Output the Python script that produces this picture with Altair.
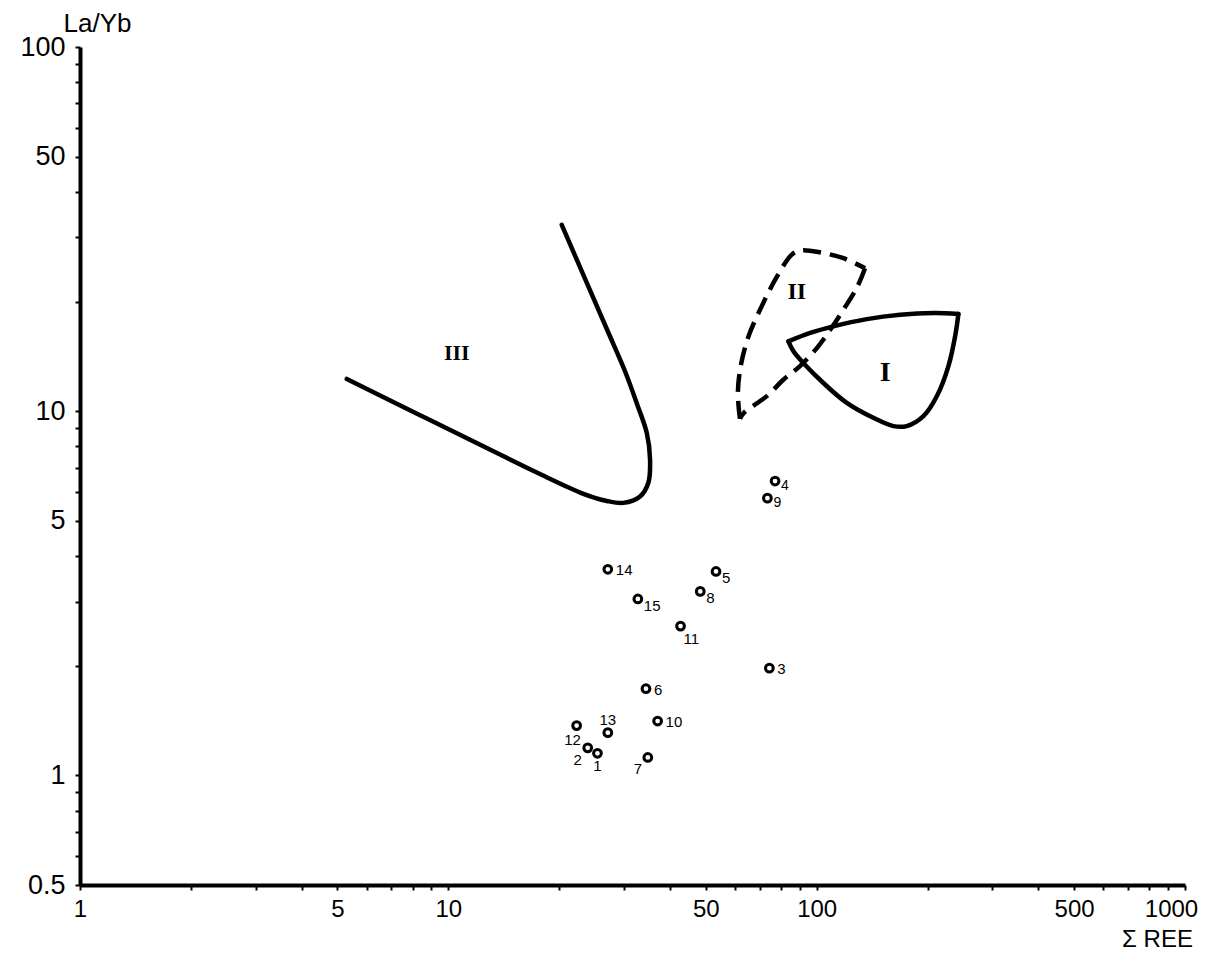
import altair as alt
import pandas as pd

# ---------------- data ----------------
sample_ids = ["1", "2", "3", "4", "5", "6", "7", "8", "9", "10", "11", "12", "13", "14", "15"]
sample_ree = [25.4, 23.9, 74.4, 77.1, 53.3, 34.4, 34.8, 48.3, 73.5, 37.0, 42.7, 22.3, 27.1, 27.1, 32.7]
sample_layb = [1.15, 1.19, 1.97, 6.43, 3.63, 1.73, 1.12, 3.20, 5.77, 1.41, 2.57, 1.37, 1.31, 3.68, 3.05]
sample_place = ["b", "bl", "r", "rl", "rb", "r", "bl", "rb", "rl", "r", "rbb", "bls", "a", "r", "rb"]

# label placements: dx, dy, align, font size
placements = {
    "r": (8, 1, "left", 15),
    "rl": (6, 5, "left", 14),
    "rb": (6, 7, "left", 15),
    "rbb": (3, 13, "left", 15),
    "b": (0, 13, "center", 15),
    "bl": (-10, 12, "center", 15),
    "bls": (-4, 14, "center", 15),
    "a": (0, -13, "center", 15),
}

# Field III (open curve)
f3_ree = [5.30, 8.38, 12.72, 17.74, 23.26, 26.92, 29.87, 33.15, 34.91, 35.29, 34.57,
          32.60, 30.18, 27.02, 23.43, 20.32]
f3_layb = [12.26, 9.75, 7.92, 6.72, 5.93, 5.67, 5.60, 5.83, 6.36, 7.37, 8.72,
           10.40, 12.87, 16.68, 23.27, 32.47]

# Field II (dashed closed outline, two edges between corners)
f2a_ree = [61.9, 61.1, 62.2, 65.3, 70.9, 78.0, 85.6, 90.1, 102.1, 118.2, 135.3]
f2a_layb = [9.53, 11.2, 13.3, 16.05, 19.4, 23.4, 26.9, 27.6, 27.3, 26.3, 24.7]
f2b_ree = [135.3, 128.5, 118.2, 108.7, 100.1, 90.1, 81.2, 73.2, 63.5, 61.9]
f2b_layb = [24.7, 21.8, 19.0, 16.7, 14.9, 13.3, 12.2, 11.0, 9.9, 9.53]

# Field I (solid closed outline, two edges between corners)
f1a_ree = [83.8, 96.0, 111.0, 136.8, 168.5, 207.5, 242.6]
f1a_layb = [15.55, 16.4, 17.1, 17.9, 18.4, 18.6, 18.5]
f1b_ree = [242.6, 237.6, 227.8, 211.9, 194.9, 175.6, 161.6, 142.5, 120.7, 104.3, 92.0, 86.5, 83.8]
f1b_layb = [18.5, 16.05, 13.28, 10.99, 9.69, 9.10, 9.10, 9.59, 10.54, 11.95, 13.56, 14.6, 15.55]

field_names = ["III", "II", "I"]
field_label_ree = [10.54, 88.3, 153.4]
field_label_layb = [14.45, 21.3, 12.73]
field_font_sizes = {"III": 22, "II": 24, "I": 28}

x_ticks = [1, 2, 3, 4, 5, 6, 7, 8, 9, 10, 20, 30, 40, 50, 60, 70, 80, 90,
           100, 200, 300, 400, 500, 600, 700, 800, 900, 1000]
x_labels = [1, 5, 10, 50, 100, 500, 1000]
y_ticks = [0.5, 0.6, 0.7, 0.8, 0.9, 1, 2, 3, 4, 5, 6, 7, 8, 9, 10,
           20, 30, 40, 50, 60, 70, 80, 90, 100]
y_labels = [0.5, 1, 5, 10, 50, 100]

# ---------------- tables ----------------
pts = pd.DataFrame({"id": sample_ids, "ree": sample_ree, "layb": sample_layb, "place": sample_place})

def seg(name, xs, ys):
    return pd.DataFrame({"seg": name, "ree": xs, "layb": ys, "ord": list(range(len(xs)))})

solid = pd.concat([seg("III", f3_ree, f3_layb), seg("Ia", f1a_ree, f1a_layb),
                   seg("Ib", f1b_ree, f1b_layb)], ignore_index=True)
dashed = pd.concat([seg("IIa", f2a_ree, f2a_layb), seg("IIb", f2b_ree, f2b_layb)], ignore_index=True)
fields = pd.DataFrame({"name": field_names, "ree": field_label_ree, "layb": field_label_layb})

FONT = "Liberation Sans"

x_lab_list = ",".join(str(v) for v in x_labels)
y_lab_list = ",".join(str(v) for v in y_labels)

X = alt.X("ree:Q",
          scale=alt.Scale(type="log", domain=[1, 1000], nice=False),
          axis=alt.Axis(values=x_ticks,
                        labelExpr=f"indexof([{x_lab_list}], datum.value) >= 0 ? format(datum.value, '~g') : ''",
                        title="Σ REE", titleX=1077, titleY=61, titleAlign="center",
                        titleBaseline="alphabetic", titleFontSize=24, labelPadding=7,
                        labelOffset={"condition": {"test": "datum.value >= 1000", "value": -14}, "value": 0},
                        labelFontSize=24))
Y = alt.Y("layb:Q",
          scale=alt.Scale(type="log", domain=[0.5, 100], nice=False),
          axis=alt.Axis(values=y_ticks,
                        labelExpr=f"indexof([{y_lab_list}], datum.value) >= 0 ? format(datum.value, '~g') : ''",
                        title="La/Yb", titleAngle=0, titleX=17, titleY=-16, titleAlign="center",
                        titleBaseline="alphabetic", titleFontSize=26, labelPadding=10, labelFontSize=27))

solid_lines = alt.Chart(solid).mark_line(
    color="black", strokeWidth=4.5, interpolate="catmull-rom", strokeCap="round", strokeJoin="round"
).encode(x=X, y=Y, detail="seg:N", order="ord:Q")

dashed_lines = alt.Chart(dashed).mark_line(
    color="black", strokeWidth=4.5, interpolate="catmull-rom", strokeDash=[18, 9]
).encode(x=X, y=Y, detail="seg:N", order="ord:Q")

points = alt.Chart(pts).mark_point(
    shape="circle", size=60, strokeWidth=3, color="black", fill="white", filled=False, opacity=1
).encode(x=X, y=Y)

label_layers = []
for key, (dx, dy, align, fs) in placements.items():
    label_layers.append(
        alt.Chart(pts).transform_filter(alt.datum.place == key).mark_text(
            dx=dx, dy=dy, align=align, baseline="middle", font=FONT, fontSize=fs, color="black"
        ).encode(x=X, y=Y, text="id:N")
    )

field_layers = []
for name, fs in field_font_sizes.items():
    field_layers.append(
        alt.Chart(fields).transform_filter(alt.datum.name == name).mark_text(
            font="Liberation Serif", fontSize=fs, fontWeight="bold", color="black", baseline="middle"
        ).encode(x=X, y=Y, text="name:N")
    )

chart = alt.layer(solid_lines, dashed_lines, points, *field_layers, *label_layers).properties(
    width=1105, height=838,
    autosize=alt.AutoSizeParams(type="none"),
    padding={"left": 72, "top": 39, "right": 29, "bottom": 67},
    background="white",
).configure_view(stroke=None).configure_axis(
    grid=False, domainColor="black", domainWidth=4, tickColor="black", tickWidth=2,
    tickSize=5, labelFont=FONT, labelColor="black", labelOverlap=False, labelFlush=False,
    titleFont=FONT, titleFontWeight="normal", titleColor="black",
)

chart.save("out.html", embed_options={"renderer": "svg", "actions": False})
